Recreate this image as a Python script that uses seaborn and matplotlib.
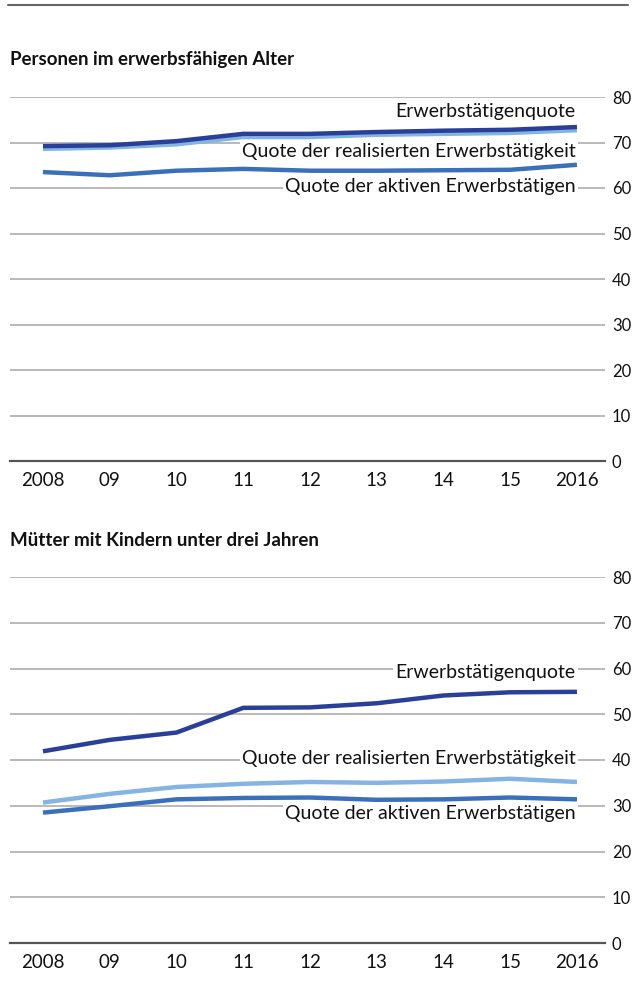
import matplotlib
matplotlib.use("Agg")
import matplotlib.pyplot as plt
from matplotlib.lines import Line2D
import seaborn as sns
import pandas as pd
import numpy as np

years = ["2008", "09", "10", "11", "12", "13", "14", "15", "2016"]
series_names = ["Quote der realisierten Erwerbstätigkeit",
                "Quote der aktiven Erwerbstätigen",
                "Erwerbstätigenquote"]

# Panel 1: Personen im erwerbsfähigen Alter
p1_erwerb = [69.2, 69.4, 70.3, 71.9, 71.9, 72.3, 72.6, 72.8, 73.4]
p1_real = [68.6, 68.9, 69.6, 71.2, 71.2, 71.7, 71.9, 72.1, 72.7]
p1_aktiv = [63.5, 62.8, 63.8, 64.2, 63.8, 63.8, 63.9, 64.0, 65.1]

# Panel 2: Mütter mit Kindern unter drei Jahren
p2_erwerb = [41.9, 44.4, 46.0, 51.4, 51.5, 52.4, 54.1, 54.8, 54.9]
p2_real = [30.7, 32.6, 34.1, 34.8, 35.2, 35.0, 35.3, 35.9, 35.2]
p2_aktiv = [28.5, 29.9, 31.4, 31.7, 31.8, 31.3, 31.4, 31.8, 31.4]

titles = ["Personen im erwerbsfähigen Alter", "Mütter mit Kindern unter drei Jahren"]
yticks = [0, 10, 20, 30, 40, 50, 60, 70, 80]

colors = {"Erwerbstätigenquote": "#2a3f98",
          "Quote der realisierten Erwerbstätigkeit": "#84b4e2",
          "Quote der aktiven Erwerbstätigen": "#3a70bb"}

sns.set_style("white")
plt.rcParams["font.family"] = ["Lato", "DejaVu Sans"]

fig = plt.figure(figsize=(6.36, 10.01), dpi=100)
W, H = 636, 1001

def make_df(erw, real, akt):
    rows = []
    for name, vals in [(series_names[0], real), (series_names[1], akt), (series_names[2], erw)]:
        for i, v in enumerate(vals):
            rows.append({"pos": i, "value": v, "series": name})
    return pd.DataFrame(rows)

panels = [
    dict(df=make_df(p1_erwerb, p1_real, p1_aktiv), top=97, bottom=461, title_y=60,
         labels=[("Erwerbstätigenquote", 76.8),
                 ("Quote der realisierten Erwerbstätigkeit", 68.0),
                 ("Quote der aktiven Erwerbstätigen", 60.4)]),
    dict(df=make_df(p2_erwerb, p2_real, p2_aktiv), top=577, bottom=943, title_y=541,
         labels=[("Erwerbstätigenquote", 59.2),
                 ("Quote der realisierten Erwerbstätigkeit", 40.4),
                 ("Quote der aktiven Erwerbstätigen", 28.2)]),
]

left_px, right_px = 10, 605
for k, p in enumerate(panels):
    ax = fig.add_axes([left_px / W, 1 - p["bottom"] / H, (right_px - left_px) / W,
                       (p["bottom"] - p["top"]) / H])
    ax.set_xlim(-0.494, 8.42)
    ax.set_ylim(0, 80)
    for yv in yticks[1:]:
        ax.axhline(yv, color="#b3b3b3", lw=1.3, zorder=0)
    sns.lineplot(data=p["df"], x="pos", y="value", hue="series", palette=colors,
                 hue_order=series_names, lw=3.2, ax=ax, legend=False,
                 solid_capstyle="butt", zorder=3)
    for name, ypos in p["labels"]:
        ax.text(7.98, ypos, name, ha="right", va="center", fontsize=14, color="#111111",
                bbox=dict(facecolor="white", edgecolor="none", pad=1.5), zorder=5)
    for s in ["top", "left", "right"]:
        ax.spines[s].set_visible(False)
    ax.spines["bottom"].set_color("#555555")
    ax.spines["bottom"].set_linewidth(1.6)
    ax.yaxis.tick_right()
    ax.set_yticks(yticks)
    ax.set_yticklabels([str(v) for v in yticks])
    ax.tick_params(axis="y", length=0, pad=5, labelsize=12, colors="#111111")
    ax.set_xticks(range(len(years)))
    ax.set_xticklabels(years)
    ax.set_xticks(np.arange(0.5, 8, 1.0), minor=True)
    ax.tick_params(axis="x", which="major", length=0, pad=8, labelsize=13.5, colors="#111111")
    ax.tick_params(axis="x", which="minor", length=6, width=1.2, color="#555555", direction="out")
    ax.set_xlabel("")
    ax.set_ylabel("")
    fig.text(10 / W, 1 - p["title_y"] / H, titles[k], ha="left", va="center",
             fontsize=13.5, fontweight="bold", color="#111111")

fig.add_artist(Line2D([8 / W, 628 / W], [1 - 5 / H, 1 - 5 / H], color="#666666", lw=1.5))

fig.savefig("out.png", dpi=100)
